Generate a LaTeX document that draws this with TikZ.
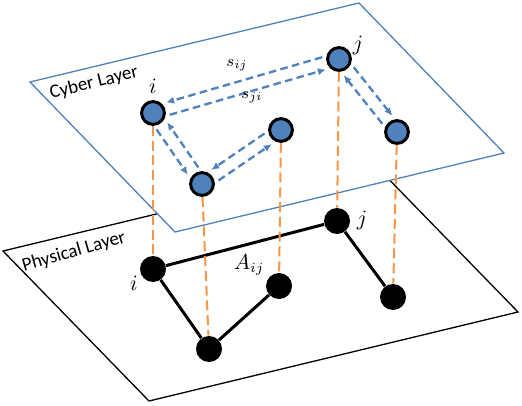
\documentclass[tikz,border=0pt]{standalone}
\usepackage{fontspec}
\setsansfont{Carlito}
\usetikzlibrary{arrows.meta, calc}
\definecolor{cyberblue}{HTML}{4F81BD}
\definecolor{linkorange}{HTML}{F79646}
\tikzset{
  every node/.style={font=\small},
  layer/.style   = {line width=0.65pt, fill=white, line join=miter},
  cnode/.style   = {circle, draw=black, fill=cyberblue, line width=1.5pt,
                    minimum size=11.4pt, inner sep=0pt},
  pnode/.style   = {circle, fill=black, minimum size=13pt, inner sep=0pt},
  wire/.style    = {line width=1.5pt},
  link/.style    = {draw=linkorange, line width=1pt, dash pattern=on 5pt off 2.4pt},
  msg/.style     = {draw=cyberblue, line width=1.15pt, dash pattern=on 3.8pt off 2.2pt,
                    -{Latex[length=4pt,width=3.6pt]}},
  lbl/.style     = {font=\fontsize{10.5}{12}\selectfont, inner sep=0pt},
  sublbl/.style  = {font=\fontsize{8.5}{10}\selectfont, inner sep=0pt},
  layername/.style = {font=\sffamily\fontsize{9.5}{11}\selectfont, inner sep=0pt},
}
% dashed message arrow, shifted to the right / left of its direction
\newcommand{\msgright}[2]{\draw[msg] ($(#1)!7.8pt!(#2)!3.2pt!-90:(#2)$) -- ($(#2)!7.8pt!(#1)!3.2pt!90:(#1)$);}
\newcommand{\msgleft}[2]{\draw[msg] ($(#1)!7.8pt!(#2)!3.2pt!90:(#2)$) -- ($(#2)!7.8pt!(#1)!3.2pt!-90:(#1)$);}

\begin{document}
\begin{tikzpicture}[x=0.5pt, y=-0.5pt]
  \useasboundingbox (0,0) rectangle (522,405);

  % ---- physical layer ----
  \draw[layer] (3,251) -- (372,162) -- (518,312) -- (149,401) -- cycle;
  \node[layername, rotate=16] (phname) at (74,252) {Physical Layer};

  \node[pnode] (pi) at (153,269) {};
  \node[pnode] (pl) at (209,349) {};
  \node[pnode] (pm) at (279,286) {};
  \node[pnode] (pj) at (337,221) {};
  \node[pnode] (pr) at (393,297) {};

  \draw[wire] (pi) -- (pj);
  \draw[wire] (pi) -- (pl);
  \draw[wire] (pl) -- (pm);
  \draw[wire] (pj) -- (pr);

  \node[lbl] (lpi)  at (134,283) {$i$};
  \node[lbl] (lpj)  at (362,220) {$j$};
  \node[lbl] (laij) at (249,265) {$A_{ij}$};

  % ---- cyber layer ----
  \draw[layer, draw=cyberblue] (30,82) -- (359,3) -- (504,153) -- (175,232) -- cycle;
  \node[layername, rotate=14] (cyname) at (94,83) {Cyber Layer};

  \node[cnode] (ci) at (153,113) {};
  \node[cnode] (cl) at (202,184) {};
  \node[cnode] (cm) at (281,130) {};
  \node[cnode] (cj) at (339,59)  {};
  \node[cnode] (cr) at (397,132) {};

  % ---- links between layers ----
  \draw[link] (ci) -- (pi);
  \draw[link] (cl) -- (pl);
  \draw[link] (cm) -- (pm);
  \draw[link] (cj) -- (pj);
  \draw[link] (cr) -- (pr);

  % ---- messages ----
  \msgright{cj}{ci}
  \msgright{ci}{cj}
  \msgright{ci}{cl}
  \msgright{cl}{ci}
  \msgright{cm}{cl}
  \msgright{cl}{cm}
  \msgleft{cj}{cr}
  \msgleft{cr}{cj}

  \node[lbl]    (lci)  at (153,86)  {$i$};
  \node[lbl]    (lcj)  at (358,45)  {$j$};
  \node[sublbl] (lsij) at (237,65)  {$s_{ij}$};
  \node[sublbl] (lsji) at (252,97)  {$s_{ji}$};
\end{tikzpicture}
\end{document}
